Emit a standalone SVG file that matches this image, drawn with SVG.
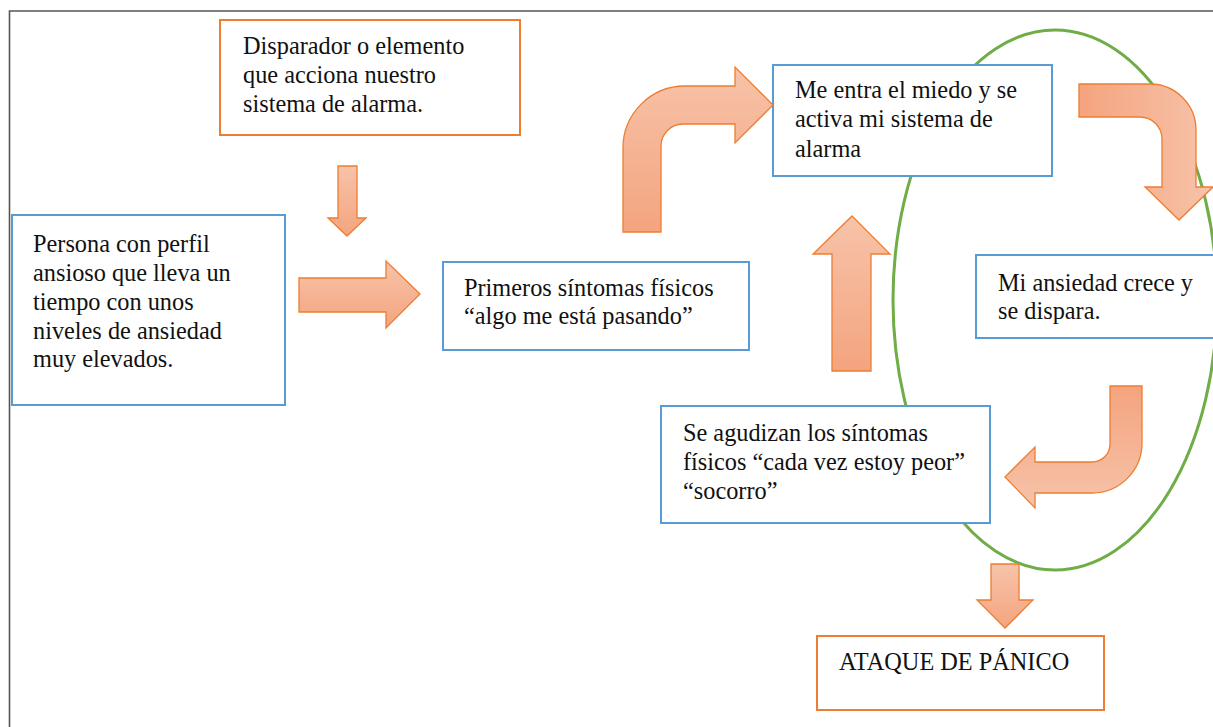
<svg xmlns="http://www.w3.org/2000/svg" width="1213" height="727" viewBox="0 0 1213 727">
<defs>
<linearGradient id="gv" x1="0" y1="0" x2="0" y2="1"><stop offset="0" stop-color="#f7c3aa"/><stop offset="1" stop-color="#f4a47e"/></linearGradient>
<linearGradient id="gvr" x1="0" y1="0" x2="0" y2="1"><stop offset="0" stop-color="#f4a47e"/><stop offset="1" stop-color="#f7c3aa"/></linearGradient>
<linearGradient id="gh" x1="0" y1="0" x2="1" y2="0"><stop offset="0" stop-color="#f4a47e"/><stop offset="1" stop-color="#f7c3aa"/></linearGradient>
</defs>
<style>
.box{fill:#fff;stroke-width:2}
.blue{stroke:#5b9bd5}
.orange{stroke:#ed7d31}
.arr{stroke:#ed7d31;stroke-width:1.3;stroke-linejoin:miter}
text{font-family:"Liberation Serif","Times New Roman",serif;font-size:24.3px;fill:#111}
</style>
<rect width="1213" height="727" fill="#fff"/>
<path d="M9.5 727 V11 H1213" fill="none" stroke="#555" stroke-width="1.6"/>
<ellipse id="cycle" cx="1055" cy="300" rx="162" ry="270" fill="none" stroke="#70ad47" stroke-width="3"/>

<g id="n-disparador"><rect class="box orange" x="220" y="20" width="300" height="115"/>
<text x="243" y="54">Disparador o elemento</text><text x="243" y="83">que acciona nuestro</text><text x="243" y="112">sistema de alarma.</text></g>

<g id="n-persona"><rect class="box blue" x="12" y="215" width="273" height="190"/>
<text x="33" y="252">Persona con perfil</text><text x="33" y="281">ansioso que lleva un</text><text x="33" y="310">tiempo con unos</text><text x="33" y="339">niveles de ansiedad</text><text x="33" y="367">muy elevados.</text></g>

<g id="n-primeros"><rect class="box blue" x="443" y="262" width="306" height="88"/>
<text x="464" y="296">Primeros síntomas físicos</text><text x="464" y="324">“algo me está pasando”</text></g>

<g id="n-miedo"><rect class="box blue" x="773" y="65" width="279" height="111"/>
<text x="795" y="98">Me entra el miedo y se</text><text x="795" y="127">activa mi sistema de</text><text x="795" y="157">alarma</text></g>

<g id="n-ansiedad"><rect class="box blue" x="976" y="255" width="240" height="83"/>
<text x="998" y="291">Mi ansiedad crece y</text><text x="998" y="319">se dispara.</text></g>

<g id="n-agudizan"><rect class="box blue" x="661" y="406" width="329" height="117"/>
<text x="683" y="441">Se agudizan los síntomas</text><text x="683" y="470">físicos “cada vez estoy peor”</text><text x="683" y="499">“socorro”</text></g>

<g id="n-ataque"><rect class="box orange" x="817" y="636" width="287" height="74"/>
<text x="839" y="670">ATAQUE DE PÁNICO</text></g>

<g id="connectors">
<path class="arr" fill="url(#gv)" d="M338 166 H357 V218 H366 L347 236 L328 218 H338 Z"/>
<path class="arr" fill="url(#gv)" d="M299 278 H386 V261 L420 294 L386 328 V312 H299 Z"/>
<path class="arr" fill="url(#gv)" d="M623 232 V148 A62 62 0 0 1 685 86 H735 V67 L773 105 L735 143 V124 H683 A22 22 0 0 0 661 146 V232 Z"/>
<path class="arr" fill="url(#gh)" d="M1079 84 H1150 A46 46 0 0 1 1196 130 V187 H1213 L1179 220 L1145 187 H1162 V139 A22 22 0 0 0 1140 117 H1079 Z"/>
<path class="arr" fill="url(#gvr)" d="M1110 386 H1142 V443 A50 50 0 0 1 1092 493 H1035 V508 L1005 477 L1035 447 V462 H1092 A18 18 0 0 0 1110 444 Z"/>
<path class="arr" fill="url(#gv)" d="M832 371 V254 H813 L852 216 L890 254 H871 V371 Z"/>
<path class="arr" fill="url(#gv)" d="M991 564 H1019 V600 H1033 L1005 628 L977 600 H991 Z"/>
</g>
</svg>
